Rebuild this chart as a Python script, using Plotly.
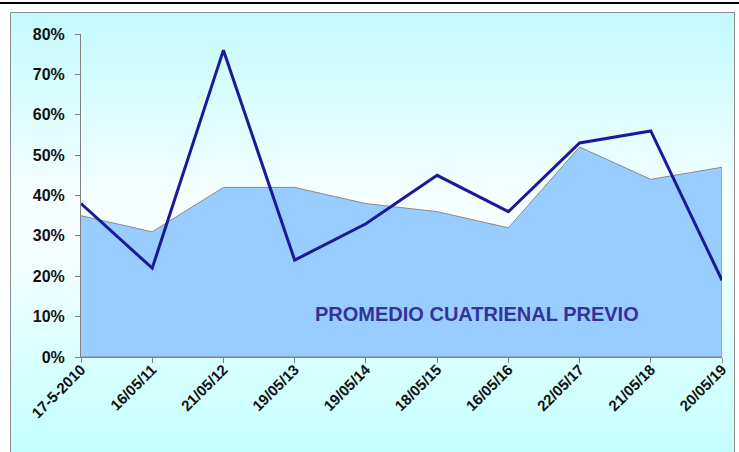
import plotly.graph_objects as go

fechas = ["17-5-2010", "16/05/11", "21/05/12", "19/05/13", "19/05/14",
          "18/05/15", "16/05/16", "22/05/17", "21/05/18", "20/05/19"]
participacion = [0.38, 0.22, 0.76, 0.24, 0.33, 0.45, 0.36, 0.53, 0.56, 0.19]
promedio_cuatrienal = [0.35, 0.31, 0.42, 0.42, 0.38, 0.36, 0.32, 0.52, 0.44, 0.47]
y_ticks = [0, 0.1, 0.2, 0.3, 0.4, 0.5, 0.6, 0.7, 0.8]

W, H = 739, 452
L, R, T, B = 81, 17, 34, 95
pw, ph = W - L - R, H - T - B

def px2x(px):
    return (px - L) / pw

def py2y(py):
    return (H - B - py) / ph

FONT = "Liberation Sans, Arial, sans-serif"

fig = go.Figure()

idx = list(range(len(fechas)))
fig.add_trace(go.Scatter(
    x=idx + [idx[-1], idx[0]],
    y=promedio_cuatrienal + [0, 0],
    mode="lines", fill="toself", fillcolor="#99ccff",
    line=dict(color="#8a8a8a", width=1), hoverinfo="skip", showlegend=False))
fig.add_trace(go.Scatter(
    x=idx, y=participacion, mode="lines",
    line=dict(color="#1a1a99", width=3), showlegend=False))

# gradient background strips
stops = [(12, (194, 250, 254)), (200, (246, 255, 255)), (250, (244, 255, 255)), (452, (196, 255, 255))]
def col(py):
    for (a, ca), (b, cb) in zip(stops, stops[1:]):
        if a <= py <= b:
            t = (py - a) / (b - a)
            return "rgb(%d,%d,%d)" % tuple(round(ca[i] + (cb[i] - ca[i]) * t) for i in range(3))
    return "rgb(196,255,255)"

shapes = []
step = 6
py = 12
while py < 452:
    y0, y1 = py, min(py + step + 0.5, 452)
    shapes.append(dict(type="rect", xref="paper", yref="paper",
                       x0=px2x(10), x1=px2x(735), y0=py2y(y1), y1=py2y(y0),
                       fillcolor=col(py + step / 2), line=dict(width=0), layer="below"))
    py += step
shapes.append(dict(type="rect", xref="paper", yref="paper",
                   x0=px2x(10.5), x1=px2x(734.5), y0=py2y(460), y1=py2y(12.5),
                   fillcolor="rgba(0,0,0,0)", line=dict(color="#8c8c8c", width=1), layer="below"))
shapes.append(dict(type="line", xref="paper", yref="paper",
                   x0=px2x(0), x1=px2x(739), y0=py2y(3), y1=py2y(3),
                   line=dict(color="#000000", width=2)))

fig.update_layout(
    width=W, height=H,
    margin=dict(l=L, r=R, t=T, b=B, autoexpand=False),
    paper_bgcolor="white", plot_bgcolor="rgba(0,0,0,0)",
    shapes=shapes,
    xaxis=dict(range=[0, len(fechas) - 1], tickmode="array", tickvals=idx, ticktext=fechas,
               tickangle=-45, showgrid=False, zeroline=False, showline=True,
               linecolor="#808080", linewidth=1, ticks="outside", ticklen=5,
               tickcolor="#808080", automargin=False, ticklabelstandoff=-8,
               tickfont=dict(family=FONT, size=15, color="#111111", weight="bold")),
    yaxis=dict(range=[0, 0.8], tickmode="array", tickvals=y_ticks, tickformat=".0%",
               showgrid=False, zeroline=False, showline=True,
               linecolor="#808080", linewidth=1, ticks="outside", ticklen=5,
               tickcolor="#808080", automargin=False, ticklabelstandoff=7,
               tickfont=dict(family=FONT, size=16, color="#111111", weight="bold")),
    annotations=[dict(text="<b>PROMEDIO CUATRIENAL PREVIO</b>", xref="paper", yref="paper",
                      x=px2x(477), y=py2y(314), xanchor="center", yanchor="middle",
                      showarrow=False,
                      font=dict(family=FONT, size=20, color="#333399"))],
)
fig.write_html("out.html", config={"displayModeBar": False},
               post_script="document.body.style.margin='0';document.body.style.overflow='hidden';")
